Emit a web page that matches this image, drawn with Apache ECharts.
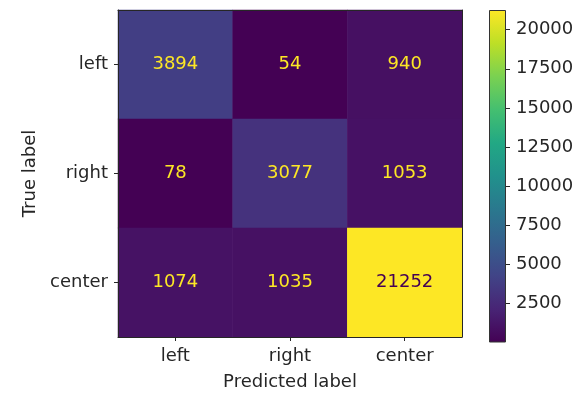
<!DOCTYPE html>
<html>
<head>
<meta charset="utf-8">
<script src="https://cdn.jsdelivr.net/npm/echarts@6/dist/echarts.min.js"></script>
<style>
  html, body { margin: 0; padding: 0; background: #fff; }
  #chart { width: 577px; height: 396px; }
</style>
</head>
<body>
<div id="chart"></div>
<script>
// Confusion matrix: rows are true labels, columns are predicted labels
const classNames = ['left', 'right', 'center'];
const rowLeft = [3894, 54, 940];
const rowRight = [78, 3077, 1053];
const rowCenter = [1074, 1035, 21252];
const matrix = [rowLeft, rowRight, rowCenter];
const colorbarTicks = [2500, 5000, 7500, 10000, 12500, 15000, 17500, 20000];

// viridis colormap samples
const viridis = ['#440154', '#482475', '#414487', '#355f8d', '#2a788e', '#21918c',
                 '#22a884', '#44bf70', '#7ad151', '#bddf26', '#fde725'];

const allValues = matrix.flat();
const vMin = Math.min(...allValues);
const vMax = Math.max(...allValues);
// cells above the midpoint get dark text, the rest light text
const threshold = (vMin + vMax) / 2;

const FONT = 'DejaVu Sans';
const TEXT = '#262626';
const FS = 18;

const cells = [];
matrix.forEach((row, i) => {
  row.forEach((v, j) => {
    cells.push([j, i, v]);
  });
});

const chart = echarts.init(document.getElementById('chart'), null, { renderer: 'canvas' });

const frameAxis = {
  axisLine: { show: true, lineStyle: { color: TEXT, width: 1 } },
  axisTick: { show: false },
  axisLabel: { show: false },
  splitLine: { show: false },
  z: 10
};

chart.setOption({
  animation: false,
  backgroundColor: '#fff',
  textStyle: { fontFamily: FONT },
  grid: [
    { left: 118, top: 10, width: 344, height: 332 },
    { left: 489, top: 10, width: 17, height: 332 }
  ],
  xAxis: [
    {
      gridIndex: 0, type: 'category', data: classNames, position: 'bottom',
      name: 'Predicted label', nameLocation: 'middle', nameGap: 36,
      nameTextStyle: { fontFamily: FONT, fontSize: FS, color: TEXT },
      axisLine: { show: true, lineStyle: { color: TEXT, width: 1 } },
      axisTick: { show: true, alignWithLabel: true, length: 4, lineStyle: { color: TEXT } },
      axisLabel: { fontFamily: FONT, fontSize: FS, color: TEXT, margin: 10 },
      splitLine: { show: false }, splitArea: { show: false }, z: 10
    },
    Object.assign({ gridIndex: 0, type: 'category', data: classNames, position: 'top' }, frameAxis),
    { gridIndex: 1, type: 'category', data: ['scale'], show: false }
  ],
  yAxis: [
    {
      gridIndex: 0, type: 'category', data: classNames, inverse: true, position: 'left',
      name: 'True label', nameLocation: 'middle', nameGap: 77, nameRotate: 90,
      nameTextStyle: { fontFamily: FONT, fontSize: FS, color: TEXT },
      axisLine: { show: true, lineStyle: { color: TEXT, width: 1 } },
      axisTick: { show: true, alignWithLabel: true, length: 4, lineStyle: { color: TEXT } },
      axisLabel: { fontFamily: FONT, fontSize: FS, color: TEXT, margin: 10 },
      splitLine: { show: false }, splitArea: { show: false }, z: 10
    },
    Object.assign({ gridIndex: 0, type: 'category', data: classNames, inverse: true, position: 'right' }, frameAxis),
    {
      gridIndex: 1, type: 'value', min: vMin, max: vMax, position: 'right',
      axisLine: { show: false },
      axisTick: { show: true, length: 4, customValues: colorbarTicks, lineStyle: { color: TEXT } },
      axisLabel: {
        fontFamily: FONT, fontSize: FS, color: TEXT, margin: 10,
        customValues: colorbarTicks, formatter: v => String(v)
      },
      splitLine: { show: false }
    }
  ],
  visualMap: {
    show: false, type: 'continuous', min: vMin, max: vMax, seriesIndex: 0, dimension: 2,
    inRange: { color: viridis }
  },
  series: [
    {
      type: 'heatmap', xAxisIndex: 0, yAxisIndex: 0, data: cells,
      itemStyle: { borderWidth: 0 },
      label: {
        show: true, fontFamily: FONT, fontSize: FS,
        formatter: p => (p.value[2] > threshold ? '{dark|' : '{light|') + p.value[2] + '}',
        rich: {
          dark: { color: viridis[0], fontFamily: FONT, fontSize: FS },
          light: { color: viridis[viridis.length - 1], fontFamily: FONT, fontSize: FS }
        }
      },
      emphasis: { disabled: true }
    },
    {
      type: 'bar', xAxisIndex: 2, yAxisIndex: 2, data: [vMax], barWidth: '100%',
      silent: true,
      itemStyle: {
        borderColor: '#333', borderWidth: 1,
        color: {
          type: 'linear', x: 0, y: 1, x2: 0, y2: 0,
          colorStops: viridis.map((c, k) => ({ offset: k / (viridis.length - 1), color: c }))
        }
      }
    }
  ]
});
</script>
</body>
</html>
